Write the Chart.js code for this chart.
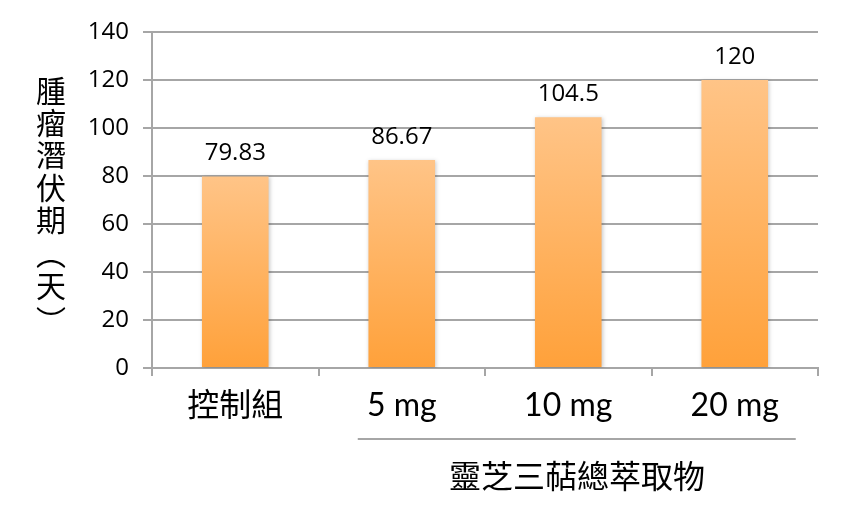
<!DOCTYPE html>
<html>
<head>
<meta charset="utf-8">
<script src="https://cdn.jsdelivr.net/npm/chart.js@4"></script>
<style>
    html, body { margin: 0; padding: 0; background: #ffffff; }
    #wrap { width: 850px; height: 510px; position: relative; }
</style>
</head>
<body>
<div id="wrap"><canvas id="chart"></canvas></div>
<script>
const categories = ["控制組", "5 mg", "10 mg", "20 mg"];
const latencyDays = [79.83, 86.67, 104.5, 120];
const valueLabels = ["79.83", "86.67", "104.5", "120"];
const yTitleChars = ["腫", "瘤", "潛", "伏", "期", "︵", "天", "︶"];
const groupLabel = "靈芝三萜總萃取物";

const GRID_COLOR = "#a6a6a6";
const NUM_FONT = "'Open Sans', 'Noto Sans', sans-serif";
const CJK_FONT = "'Noto Sans CJK TC', 'Noto Sans', sans-serif";

function barGradient(context) {
    const chart = context.chart;
    const yScale = chart.scales.y;
    if (!chart.chartArea || !yScale) {
        return "#ffb462";
    }
    const top = yScale.getPixelForValue(context.raw);
    const bottom = yScale.getPixelForValue(0);
    const g = chart.ctx.createLinearGradient(0, top, 0, bottom);
    g.addColorStop(0, "#ffc487");
    g.addColorStop(1, "#ffa13a");
    return g;
}

const decorPlugin = {
    id: "decor",
    beforeDatasetsDraw(chart) {
        const ctx = chart.ctx;
        ctx.save();
        ctx.shadowColor = "rgba(0,0,0,0.22)";
        ctx.shadowBlur = 4;
        ctx.shadowOffsetX = 1;
        ctx.shadowOffsetY = 1;
    },
    afterDatasetsDraw(chart) {
        const ctx = chart.ctx;
        ctx.restore();
        const meta = chart.getDatasetMeta(0);
        ctx.save();
        ctx.fillStyle = "#000000";
        ctx.font = "24px " + NUM_FONT;
        ctx.textAlign = "center";
        ctx.textBaseline = "alphabetic";
        meta.data.forEach((bar, i) => {
            ctx.fillText(valueLabels[i], bar.x, bar.y - 16);
        });
        ctx.restore();
    },
    afterDraw(chart) {
        const ctx = chart.ctx;
        const xScale = chart.scales.x;
        ctx.save();
        // vertical y-axis title, stacked characters
        ctx.fillStyle = "#000000";
        ctx.font = "30px " + CJK_FONT;
        ctx.textAlign = "center";
        ctx.textBaseline = "middle";
        const centers = [91, 123, 155, 188, 220, 254, 286, 321];
        yTitleChars.forEach((ch, i) => {
            ctx.fillText(ch, 51, centers[i]);
        });
        // bracket line under the treatment groups
        const x1 = xScale.getPixelForValue(1) - 44;
        const x2 = xScale.getPixelForValue(3) + 61;
        ctx.strokeStyle = GRID_COLOR;
        ctx.lineWidth = 2;
        ctx.beginPath();
        ctx.moveTo(x1, 439);
        ctx.lineTo(x2, 439);
        ctx.stroke();
        ctx.font = "32px " + CJK_FONT;
        ctx.fillText(groupLabel, 577, 476);
        ctx.restore();
    }
};

new Chart(document.getElementById("chart"), {
    type: "bar",
    data: {
        labels: categories,
        datasets: [{
            data: latencyDays,
            backgroundColor: barGradient,
            borderWidth: 0,
            barPercentage: 0.4,
            categoryPercentage: 1.0
        }]
    },
    options: {
        responsive: true,
        maintainAspectRatio: false,
        animation: false,
        layout: { padding: { top: 32, right: 32, left: 0, bottom: 0 } },
        plugins: {
            legend: { display: false },
            tooltip: { enabled: false }
        },
        scales: {
            x: {
                afterFit(scale) { scale.height = 142; },
                grid: {
                    drawOnChartArea: false,
                    color: GRID_COLOR,
                    lineWidth: 2,
                    tickLength: 8
                },
                border: { color: GRID_COLOR, width: 2 },
                ticks: {
                    color: "#000000",
                    padding: 10,
                    font: { family: "Lato, 'Noto Sans CJK TC', sans-serif", size: 32 }
                }
            },
            y: {
                min: 0,
                max: 140,
                afterFit(scale) { scale.width = 152; },
                grid: {
                    color: GRID_COLOR,
                    lineWidth: 2,
                    tickLength: 9
                },
                border: { color: GRID_COLOR, width: 2 },
                ticks: {
                    stepSize: 20,
                    color: "#000000",
                    padding: 14,
                    font: { family: NUM_FONT, size: 24 }
                }
            }
        }
    },
    plugins: [decorPlugin]
});
</script>
</body>
</html>
